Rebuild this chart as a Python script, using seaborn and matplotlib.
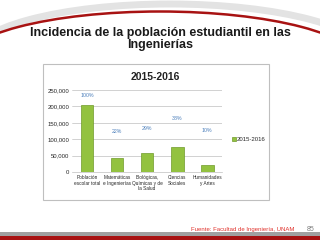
import numpy as np
import pandas as pd
import matplotlib.pyplot as plt
import seaborn as sns
from matplotlib.patches import Arc, Rectangle

plt.switch_backend('Agg')

# data
categorias = ['Población\nescolar total', 'Matemáticas\ne Ingenierías',
              'Biológicas,\nQuímicas y de\nla Salud', 'Ciencias\nSociales',
              'Humanidades\ny Artes']
alumnos = [203000, 44000, 59000, 77000, 21000]
porcentajes = ['100%', '22%', '29%', '38%', '10%']
pos_etiqueta = [232000, 125000, 134000, 162000, 128000]
y_ticks = [0, 50000, 100000, 150000, 200000, 250000]

df = pd.DataFrame({'cat': categorias, 'n': alumnos, 'serie': '2015-2016'})

sns.set_style('white')
plt.rcParams['font.family'] = ['Liberation Sans', 'DejaVu Sans']

fig = plt.figure(figsize=(3.2, 2.4), dpi=100)
fig.patch.set_facecolor('white')

# decorative background: arcs, bottom strip
bg = fig.add_axes([0, 0, 1, 1])
bg.set_xlim(0, 320)
bg.set_ylim(240, 0)
bg.axis('off')
bg.add_patch(Arc((170, 58), 400, 108, theta1=180, theta2=360, color='#e3e3e3', lw=5))
bg.add_patch(Arc((160, 64), 400, 105, theta1=180, theta2=360, color='#a81212', lw=1.8))
bg.add_patch(Rectangle((0, 232), 320, 8, color='#a0a0a0', lw=0))
bg.add_patch(Rectangle((0, 236), 320, 4, color='#a81212', lw=0))
# chart frame
bg.add_patch(Rectangle((43, 64), 226, 136, facecolor='white', edgecolor='#bfbfbf', lw=0.8))

fig.text(0.5, 0.838, 'Incidencia de la población estudiantil en las\nIngenierías',
         ha='center', va='center', fontsize=9, fontweight='bold', linespacing=1.05,
         color='#1a1a1a')
fig.text(0.485, 0.678, '2015-2016', ha='center', va='center', fontsize=7.5,
         fontweight='bold', color='#222222')
fig.text(0.92, 0.045, 'Fuente: Facultad de Ingeniería, UNAM', ha='right', va='center',
         fontsize=4.3, color='#e0302a')
fig.text(0.97, 0.045, '85', ha='center', va='center', fontsize=5, color='#7f7f7f')

ax = fig.add_axes([0.225, 0.283, 0.469, 0.342])
sns.barplot(data=df, x='cat', y='n', hue='serie', palette=['#93c240'], width=0.43,
            saturation=1, edgecolor='#6f9a2a', linewidth=0.5, ax=ax, legend=True)
ax.set_ylim(0, 250000)
ax.set_yticks(y_ticks)
ax.set_yticklabels([f'{v:,}' for v in y_ticks], fontsize=4.3)
ax.tick_params(axis='x', labelsize=3.4, length=0, pad=2)
ax.tick_params(axis='y', length=0, pad=2)
ax.set_xlabel('')
ax.set_ylabel('')
ax.grid(axis='y', color='#bfbfbf', lw=0.5)
ax.set_axisbelow(True)
for s in ['top', 'right', 'left']:
    ax.spines[s].set_visible(False)
ax.spines['bottom'].set_color('#bfbfbf')
ax.spines['bottom'].set_linewidth(0.5)

for i, (p, y) in enumerate(zip(porcentajes, pos_etiqueta)):
    ax.text(i, y, p, ha='center', va='center', fontsize=3.8, color='#4a7ebb')

leg = ax.legend(loc='center left', bbox_to_anchor=(1.03, 0.4), frameon=False,
                fontsize=4.3, handlelength=0.6, handleheight=0.6, handletextpad=0.2)

fig.savefig('out.png', dpi=100)
